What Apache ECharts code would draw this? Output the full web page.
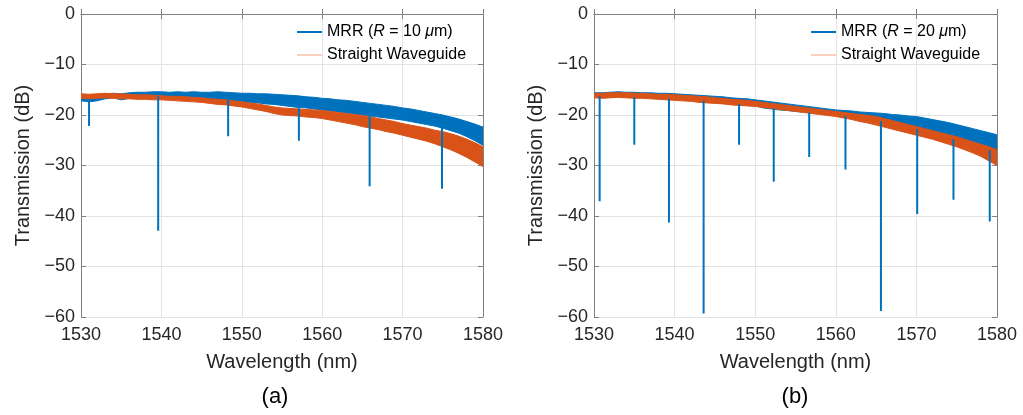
<!DOCTYPE html>
<html>
<head>
<meta charset="utf-8">
<script src="https://cdn.jsdelivr.net/npm/echarts@6/dist/echarts.min.js"></script>
<style>
  html, body { margin: 0; padding: 0; background: #fff; }
  #chart { width: 1023px; height: 415px; }
</style>
</head>
<body>
<div id="chart"></div>
<script>
// wavelength samples (nm)
const wl = [1530, 1531, 1532, 1533, 1534, 1535, 1536, 1537, 1538, 1539,
    1540, 1541, 1542, 1543, 1544, 1545, 1546, 1547, 1548, 1549,
    1550, 1551, 1552, 1553, 1554, 1555, 1556, 1557, 1558, 1559,
    1560, 1561, 1562, 1563, 1564, 1565, 1566, 1567, 1568, 1569,
    1570, 1571, 1572, 1573, 1574, 1575, 1576, 1577, 1578, 1579, 1580];

// (a) MRR R = 10 um, upper / lower edge of the noisy trace (dB)
const mrrAHi = [-16.1, -16.3, -16.0, -15.8, -15.7, -15.8, -15.6, -15.5, -15.5, -15.4,
    -15.4, -15.5, -15.4, -15.5, -15.4, -15.5, -15.5, -15.4, -15.5, -15.6,
    -15.7, -15.7, -15.8, -15.8, -15.9, -16.0, -16.1, -16.2, -16.4, -16.5,
    -16.7, -16.8, -17.0, -17.1, -17.3, -17.5, -17.7, -17.9, -18.1, -18.3,
    -18.6, -18.8, -19.1, -19.4, -19.7, -20.0, -20.4, -20.8, -21.3, -21.8, -22.4];
const mrrALo = [-17.2, -17.4, -17.2, -16.8, -16.6, -17.0, -16.7, -16.5, -16.4, -16.5,
    -16.5, -16.6, -16.6, -16.7, -16.8, -16.8, -16.9, -17.0, -17.1, -17.3,
    -17.4, -17.5, -17.6, -17.8, -17.9, -18.1, -18.3, -18.5, -18.6, -18.8,
    -19.0, -19.2, -19.4, -19.6, -19.8, -20.0, -20.2, -20.4, -20.6, -20.8,
    -21.0, -21.3, -21.6, -21.9, -22.2, -22.6, -23.1, -23.6, -24.3, -25.1, -26.0];
// (a) straight waveguide
const wgAHi = [-15.8, -15.9, -15.8, -15.7, -15.8, -15.8, -15.9, -16.0, -16.0, -16.1,
    -16.2, -16.3, -16.3, -16.4, -16.5, -16.6, -16.8, -16.9, -17.0, -17.2,
    -17.4, -17.6, -17.8, -18.1, -18.4, -18.6, -18.7, -18.8, -18.9, -19.0,
    -19.1, -19.3, -19.5, -19.7, -19.9, -20.1, -20.4, -20.7, -21.0, -21.3,
    -21.7, -22.0, -22.3, -22.6, -23.0, -23.3, -23.7, -24.2, -24.8, -25.5, -26.3];
const wgALo = [-16.7, -16.8, -16.7, -16.6, -16.7, -16.8, -16.8, -16.9, -16.9, -17.0,
    -17.0, -17.1, -17.2, -17.3, -17.4, -17.5, -17.7, -17.9, -18.0, -18.2,
    -18.4, -18.7, -19.0, -19.3, -19.7, -20.0, -20.1, -20.2, -20.4, -20.5,
    -20.7, -21.0, -21.3, -21.6, -21.9, -22.3, -22.6, -22.9, -23.3, -23.6,
    -24.0, -24.4, -24.8, -25.2, -25.7, -26.3, -26.9, -27.6, -28.4, -29.3, -30.2];
// (a) resonance dips
const dipAWl = [1531.0, 1539.6, 1548.3, 1557.1, 1565.9, 1574.9];
const dipATop = [-17.0, -16.3, -17.0, -18.4, -20.0, -22.4];
const dipADepth = [-22.2, -42.9, -24.2, -25.1, -34.1, -34.6];

// (b) MRR R = 20 um
const mrrBHi = [-15.6, -15.6, -15.5, -15.4, -15.5, -15.5, -15.6, -15.6, -15.7, -15.7,
    -15.8, -15.9, -16.0, -16.1, -16.2, -16.3, -16.4, -16.6, -16.7, -16.8,
    -17.0, -17.2, -17.4, -17.6, -17.8, -18.0, -18.2, -18.4, -18.6, -18.8,
    -19.0, -19.1, -19.2, -19.4, -19.5, -19.6, -19.7, -19.9, -20.0, -20.2,
    -20.3, -20.6, -20.9, -21.2, -21.5, -21.9, -22.3, -22.7, -23.1, -23.5, -23.9];
const mrrBLo = [-16.4, -16.5, -16.4, -16.3, -16.4, -16.5, -16.5, -16.6, -16.7, -16.8,
    -16.9, -17.0, -17.1, -17.2, -17.4, -17.5, -17.7, -17.8, -17.9, -18.1,
    -18.2, -18.6, -18.8, -19.0, -19.1, -19.3, -19.4, -19.6, -19.7, -19.9,
    -20.0, -20.2, -20.4, -20.7, -21.0, -21.3, -21.6, -21.9, -22.3, -22.6,
    -23.0, -23.4, -23.8, -24.2, -24.6, -25.0, -25.4, -25.8, -26.3, -26.8, -27.2];
// (b) straight waveguide
const wgBHi = [-15.7, -15.7, -15.6, -15.6, -15.6, -15.7, -15.7, -15.8, -15.9, -15.9,
    -16.0, -16.1, -16.2, -16.3, -16.4, -16.6, -16.7, -16.9, -17.0, -17.1,
    -17.3, -17.5, -17.7, -17.9, -18.1, -18.3, -18.5, -18.7, -18.9, -19.1,
    -19.3, -19.5, -19.7, -19.9, -20.1, -20.3, -20.7, -21.1, -21.5, -21.9,
    -22.3, -22.7, -23.1, -23.5, -23.9, -24.3, -24.8, -25.3, -25.8, -26.3, -26.9];
const wgBLo = [-16.6, -16.7, -16.6, -16.5, -16.6, -16.7, -16.7, -16.8, -16.9, -17.0,
    -17.1, -17.2, -17.3, -17.5, -17.6, -17.7, -17.8, -18.0, -18.1, -18.2,
    -18.3, -18.5, -18.7, -18.9, -19.1, -19.3, -19.5, -19.7, -19.9, -20.1,
    -20.3, -20.6, -20.9, -21.3, -21.6, -22.0, -22.4, -22.8, -23.2, -23.6,
    -24.0, -24.4, -24.8, -25.3, -25.8, -26.3, -26.9, -27.5, -28.2, -29.1, -30.0];
// (b) resonance dips
const dipBWl = [1530.7, 1535.0, 1539.3, 1543.6, 1548.0, 1552.3, 1556.7, 1561.2, 1565.6, 1570.1, 1574.6, 1579.1];
const dipBTop = [-16.3, -16.5, -16.8, -17.2, -17.8, -18.7, -19.5, -20.2, -21.2, -22.8, -24.8, -27.0];
const dipBDepth = [-37.1, -25.9, -41.3, -59.3, -25.9, -33.2, -28.3, -30.8, -58.8, -39.6, -36.8, -41.1];

const xTicks = [1530, 1580, 10];
const yTicks = [-60, 0, 10];

const BLUE = '#0072BD';
const ORANGE = '#D95319';
const FONT = '"Liberation Sans", Arial, sans-serif';
const mrrNameA = 'MRR (R = 10 μm)';
const mrrNameB = 'MRR (R = 20 μm)';
const wgName = 'Straight Waveguide';

const minus = v => v < 0 ? '\u2212' + (-v) : String(v);

// noisy trace drawn as a filled band between its lower and upper edge
const band = (name, lo, hi, color, xi, yi) => ({
    name, type: 'custom', xAxisIndex: xi, yAxisIndex: yi,
    silent: true, animation: false, clip: true,
    itemStyle: { color },
    data: [0],
    renderItem: (params, api) => {
        const top = wl.map((x, i) => api.coord([x, hi[i]]));
        const bottom = wl.map((x, i) => api.coord([x, lo[i]])).reverse();
        return {
            type: 'polygon',
            shape: { points: top.concat(bottom) },
            style: { fill: color, stroke: color, lineWidth: 1 }
        };
    }
});

const dips = (name, xs, tops, depths, xi, yi) => {
    const data = [];
    xs.forEach((x, i) => {
        data.push([x, tops[i]], [x, depths[i]], [x, '-']);
    });
    return {
        name, type: 'line', xAxisIndex: xi, yAxisIndex: yi,
        symbol: 'none', silent: true, animation: false, connectNulls: false,
        itemStyle: { color: BLUE },
        lineStyle: { color: BLUE, width: 2 },
        data
    };
};

const mainX = (gi) => ({
    type: 'value', gridIndex: gi, position: 'bottom',
    min: xTicks[0], max: xTicks[1], interval: xTicks[2],
    name: 'Wavelength (nm)', nameLocation: 'middle', nameGap: 35,
    nameTextStyle: { fontSize: 20, color: '#262626', fontFamily: FONT },
    axisLine: { show: true, lineStyle: { color: '#808080', width: 1 } },
    axisTick: { show: true, inside: true, length: 5, lineStyle: { color: '#808080' } },
    axisLabel: { fontSize: 18, color: '#262626', fontFamily: FONT, margin: 9, formatter: v => String(v) },
    splitLine: { show: true, lineStyle: { color: '#e3e3e3', width: 1 } }
});
const topX = (gi) => ({
    type: 'value', gridIndex: gi, position: 'top',
    min: xTicks[0], max: xTicks[1], interval: xTicks[2],
    axisLine: { show: true, lineStyle: { color: '#808080', width: 1 } },
    axisTick: { show: true, inside: true, length: 5, lineStyle: { color: '#808080' } },
    axisLabel: { show: false }, splitLine: { show: false }
});
const mainY = (gi) => ({
    type: 'value', gridIndex: gi, position: 'left',
    min: yTicks[0], max: yTicks[1], interval: yTicks[2],
    name: 'Transmission (dB)', nameLocation: 'middle', nameGap: 48,
    nameTextStyle: { fontSize: 20, color: '#262626', fontFamily: FONT },
    axisLine: { show: true, lineStyle: { color: '#808080', width: 1 } },
    axisTick: { show: true, inside: true, length: 5, lineStyle: { color: '#808080' } },
    axisLabel: { fontSize: 18, color: '#262626', fontFamily: FONT, margin: 6, formatter: minus },
    splitLine: { show: true, lineStyle: { color: '#e3e3e3', width: 1 } }
});
const rightY = (gi) => ({
    type: 'value', gridIndex: gi, position: 'right',
    min: yTicks[0], max: yTicks[1], interval: yTicks[2],
    axisLine: { show: true, lineStyle: { color: '#808080', width: 1 } },
    axisTick: { show: true, inside: true, length: 5, lineStyle: { color: '#808080' } },
    axisLabel: { show: false }, splitLine: { show: false }
});

const legendText = {
    fontSize: 16, color: '#000', fontFamily: FONT, lineHeight: 20,
    rich: { i: { fontSize: 16, fontStyle: 'italic', fontFamily: FONT, color: '#000' } }
};
const mrrLabel = name => name.replace('(R', '({i|R}').replace('μ', '{i|μ}');

const legendPair = (left, mrrName) => [
    {
        left, top: 22, orient: 'vertical', itemWidth: 25, itemHeight: 2, itemGap: 2,
        padding: 0, selectedMode: false,
        data: [{ name: mrrName, icon: 'rect', itemStyle: { color: BLUE } }],
        formatter: mrrLabel, textStyle: legendText
    },
    {
        left, top: 45, orient: 'vertical', itemWidth: 25, itemHeight: 1, itemGap: 2,
        padding: 0, selectedMode: false,
        data: [{ name: wgName, icon: 'rect', itemStyle: { color: '#F0A07A' } }],
        textStyle: legendText
    }
];

const chart = echarts.init(document.getElementById('chart'), null, { renderer: 'canvas' });

const option = {
    backgroundColor: '#fff',
    animation: false,
    grid: [
        { left: 81, right: 540, top: 14, bottom: 98 },
        { left: 594, right: 26, top: 14, bottom: 98 }
    ],
    xAxis: [mainX(0), topX(0), mainX(1), topX(1)],
    yAxis: [mainY(0), rightY(0), mainY(1), rightY(1)],
    legend: [...legendPair(297, mrrNameA), ...legendPair(811, mrrNameB)],
    graphic: [
        { type: 'text', x: 275, y: 397, style: { text: '(a)', font: '22px ' + FONT, fill: '#000', align: 'center', verticalAlign: 'middle' } },
        { type: 'text', x: 795, y: 397, style: { text: '(b)', font: '22px ' + FONT, fill: '#000', align: 'center', verticalAlign: 'middle' } }
    ],
    series: [
        band(mrrNameA, mrrALo, mrrAHi, BLUE, 0, 0),
        band(wgName, wgALo, wgAHi, ORANGE, 0, 0),
        dips(mrrNameA, dipAWl, dipATop, dipADepth, 0, 0),
        band(mrrNameB, mrrBLo, mrrBHi, BLUE, 2, 2),
        band(wgName, wgBLo, wgBHi, ORANGE, 2, 2),
        dips(mrrNameB, dipBWl, dipBTop, dipBDepth, 2, 2)
    ]
};

chart.setOption(option);
</script>
</body>
</html>
